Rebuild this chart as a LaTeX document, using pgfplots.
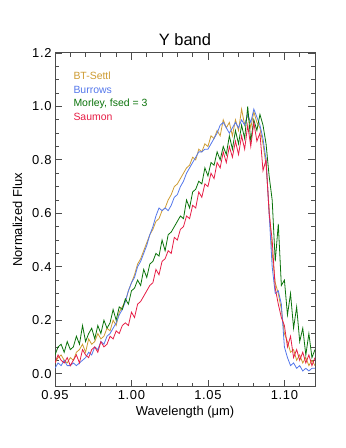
\documentclass[border=0pt]{standalone}
\usepackage{fontspec}
\setmainfont{Liberation Sans}
\usepackage{pgfplots}
\pgfplotsset{compat=1.18}
\definecolor{cgold}{RGB}{205,155,50}
\definecolor{cblue}{RGB}{85,120,235}
\definecolor{cgreen}{RGB}{10,115,10}
\definecolor{cred}{RGB}{230,30,70}
\begin{document}
\begin{tikzpicture}
\path[use as bounding box] (0,0) rectangle (346bp,448bp);
\begin{axis}[
  at={(55bp,61bp)}, anchor=south west,
  scale only axis, width=260bp, height=334bp,
  xmin=0.95, xmax=1.12, ymin=-0.05, ymax=1.2,
  xtick={0.95,1.00,1.05,1.10},
  minor xtick={0.96,0.97,0.98,0.99,1.01,1.02,1.03,1.04,1.06,1.07,1.08,1.09,1.11,1.12},
  ytick={0,0.2,0.4,0.6,0.8,1.0,1.2},
  minor ytick={0.05,0.1,0.15,0.25,0.3,0.35,0.45,0.5,0.55,0.65,0.7,0.75,0.85,0.9,0.95,1.05,1.1,1.15},
  tick align=inside, tick pos=both,
  major tick length=7bp, minor tick length=4bp,
  every tick/.style={black!70, line width=0.8bp},
  axis line style={black!70, line width=1bp},
  /pgf/number format/assume math mode=true,
  x tick label style={/pgf/number format/.cd, fixed, fixed zerofill, precision=2},
  y tick label style={/pgf/number format/.cd, fixed, fixed zerofill, precision=1},
  tick label style={font=\fontsize{13}{15}\selectfont\addfontfeatures{LetterSpace=5}},
  xlabel={Wavelength (μm)}, ylabel={Normalized Flux},
  ylabel shift=3bp,
  label style={font=\fontsize{13}{15}\selectfont},
  title={Y band}, title style={font=\fontsize{16.5}{19}\selectfont, yshift=-2bp},
  clip=true,
]
\addplot[cgold, line width=0.8bp] coordinates {
(0.950,0.04)(0.952,0.06)(0.954,0.07)(0.956,0.05)(0.958,0.04)(0.960,0.06)(0.962,0.05)(0.964,0.08)(0.966,0.09)(0.968,0.11)
(0.970,0.08)(0.972,0.13)(0.974,0.11)(0.976,0.12)(0.978,0.15)(0.980,0.13)(0.982,0.14)(0.984,0.17)(0.986,0.16)(0.988,0.20)
(0.990,0.18)(0.992,0.23)(0.994,0.25)(0.996,0.27)(0.998,0.31)(1.000,0.34)(1.002,0.37)(1.004,0.41)(1.006,0.43)(1.008,0.46)
(1.010,0.49)(1.012,0.52)(1.014,0.54)(1.016,0.57)(1.018,0.58)(1.020,0.61)(1.022,0.62)(1.024,0.65)(1.026,0.67)(1.028,0.70)
(1.030,0.71)(1.032,0.73)(1.034,0.75)(1.036,0.77)(1.038,0.78)(1.040,0.81)(1.042,0.80)(1.044,0.84)(1.046,0.83)(1.048,0.86)
(1.050,0.85)(1.052,0.89)(1.054,0.88)(1.056,0.91)(1.058,0.89)(1.060,0.95)(1.062,0.92)(1.064,0.94)(1.066,0.89)(1.068,0.95)
(1.070,0.91)(1.072,0.99)(1.074,0.93)(1.076,0.97)(1.078,0.92)(1.080,0.98)(1.082,0.94)(1.084,0.92)(1.086,0.86)(1.088,0.78)
(1.090,0.62)(1.092,0.45)(1.094,0.34)(1.096,0.30)(1.098,0.24)(1.100,0.15)(1.102,0.12)(1.104,0.08)(1.106,0.09)(1.108,0.05)
(1.110,0.07)(1.112,0.04)(1.114,0.06)(1.116,0.03)(1.118,0.05)(1.120,0.03)};
\addplot[cblue, line width=0.8bp] coordinates {
(0.950,0.02)(0.952,0.04)(0.954,0.03)(0.956,0.05)(0.958,0.03)(0.960,0.03)(0.962,0.04)(0.964,0.03)(0.966,0.04)(0.968,0.05)
(0.970,0.06)(0.972,0.08)(0.974,0.07)(0.976,0.10)(0.978,0.09)(0.980,0.12)(0.982,0.11)(0.984,0.14)(0.986,0.15)(0.988,0.17)
(0.990,0.19)(0.992,0.22)(0.994,0.24)(0.996,0.27)(0.998,0.31)(1.000,0.34)(1.002,0.36)(1.004,0.40)(1.006,0.42)(1.008,0.45)
(1.010,0.48)(1.012,0.52)(1.014,0.55)(1.016,0.59)(1.018,0.62)(1.020,0.61)(1.022,0.62)(1.024,0.61)(1.026,0.63)(1.028,0.66)
(1.030,0.67)(1.032,0.70)(1.034,0.72)(1.036,0.75)(1.038,0.77)(1.040,0.79)(1.042,0.81)(1.044,0.83)(1.046,0.83)(1.048,0.84)
(1.050,0.84)(1.052,0.86)(1.054,0.88)(1.056,0.90)(1.058,0.93)(1.060,0.94)(1.062,0.92)(1.064,0.90)(1.066,0.92)(1.068,0.94)
(1.070,0.92)(1.072,0.95)(1.074,0.93)(1.076,0.97)(1.078,0.94)(1.080,0.99)(1.082,0.96)(1.084,0.93)(1.086,0.88)(1.088,0.80)
(1.090,0.60)(1.092,0.40)(1.094,0.30)(1.096,0.31)(1.098,0.26)(1.100,0.10)(1.102,0.06)(1.104,0.03)(1.106,0.04)(1.108,0.02)
(1.110,0.03)(1.112,0.01)(1.114,0.02)(1.116,0.01)(1.118,0.02)(1.120,0.02)};
\addplot[cgreen, line width=0.8bp] coordinates {
(0.950,0.07)(0.952,0.10)(0.954,0.11)(0.956,0.08)(0.958,0.12)(0.960,0.09)(0.962,0.10)(0.964,0.14)(0.966,0.11)(0.968,0.18)
(0.970,0.12)(0.972,0.15)(0.974,0.17)(0.976,0.13)(0.978,0.18)(0.980,0.15)(0.982,0.20)(0.984,0.17)(0.986,0.19)(0.988,0.24)
(0.990,0.20)(0.992,0.25)(0.994,0.24)(0.996,0.28)(0.998,0.26)(1.000,0.31)(1.002,0.32)(1.004,0.35)(1.006,0.33)(1.008,0.39)
(1.010,0.36)(1.012,0.41)(1.014,0.42)(1.016,0.45)(1.018,0.44)(1.020,0.50)(1.022,0.46)(1.024,0.52)(1.026,0.53)(1.028,0.55)
(1.030,0.57)(1.032,0.59)(1.034,0.58)(1.036,0.65)(1.038,0.62)(1.040,0.68)(1.042,0.69)(1.044,0.72)(1.046,0.71)(1.048,0.77)
(1.050,0.74)(1.052,0.79)(1.054,0.78)(1.056,0.83)(1.058,0.80)(1.060,0.85)(1.062,0.82)(1.064,0.89)(1.066,0.84)(1.068,0.91)
(1.070,0.86)(1.072,0.93)(1.074,0.88)(1.076,1.00)(1.078,0.87)(1.080,0.95)(1.082,0.91)(1.084,0.97)(1.086,0.93)(1.088,0.86)
(1.090,0.74)(1.092,0.65)(1.094,0.42)(1.096,0.56)(1.098,0.33)(1.100,0.35)(1.102,0.22)(1.104,0.30)(1.106,0.17)(1.108,0.25)
(1.110,0.12)(1.112,0.17)(1.114,0.07)(1.116,0.15)(1.118,0.06)(1.120,0.09)};
\addplot[cred, line width=0.8bp] coordinates {
(0.950,0.04)(0.952,0.07)(0.954,0.05)(0.956,0.04)(0.958,0.06)(0.960,0.03)(0.962,0.05)(0.964,0.07)(0.966,0.04)(0.968,0.09)
(0.970,0.07)(0.972,0.06)(0.974,0.09)(0.976,0.10)(0.978,0.08)(0.980,0.12)(0.982,0.10)(0.984,0.11)(0.986,0.14)(0.988,0.13)
(0.990,0.16)(0.992,0.15)(0.994,0.18)(0.996,0.19)(0.998,0.18)(1.000,0.23)(1.002,0.21)(1.004,0.26)(1.006,0.27)(1.008,0.29)
(1.010,0.31)(1.012,0.33)(1.014,0.34)(1.016,0.39)(1.018,0.37)(1.020,0.42)(1.022,0.43)(1.024,0.46)(1.026,0.45)(1.028,0.51)
(1.030,0.50)(1.032,0.54)(1.034,0.55)(1.036,0.59)(1.038,0.58)(1.040,0.63)(1.042,0.62)(1.044,0.68)(1.046,0.66)(1.048,0.71)
(1.050,0.70)(1.052,0.75)(1.054,0.73)(1.056,0.79)(1.058,0.77)(1.060,0.83)(1.062,0.79)(1.064,0.85)(1.066,0.81)(1.068,0.87)
(1.070,0.82)(1.072,0.89)(1.074,0.84)(1.076,0.93)(1.078,0.85)(1.080,0.94)(1.082,0.87)(1.084,0.90)(1.086,0.76)(1.088,0.80)
(1.090,0.60)(1.092,0.50)(1.094,0.32)(1.096,0.26)(1.098,0.21)(1.100,0.18)(1.102,0.10)(1.104,0.14)(1.106,0.06)(1.108,0.09)
(1.110,0.05)(1.112,0.08)(1.114,0.04)(1.116,0.07)(1.118,0.03)(1.120,0.06)};
\node[anchor=base west, font=\fontsize{10.5}{12}\selectfont, text=cgold] at (axis cs:0.9598,1.099) {BT-Settl};
\node[anchor=base west, font=\fontsize{10.5}{12}\selectfont, text=cblue] at (axis cs:0.9598,1.049) {Burrows};
\node[anchor=base west, font=\fontsize{10.5}{12}\selectfont, text=cgreen] at (axis cs:0.9598,0.999) {Morley, fsed = 3};
\node[anchor=base west, font=\fontsize{10.5}{12}\selectfont, text=cred] at (axis cs:0.9598,0.949) {Saumon};
\end{axis}
\end{tikzpicture}
\end{document}
